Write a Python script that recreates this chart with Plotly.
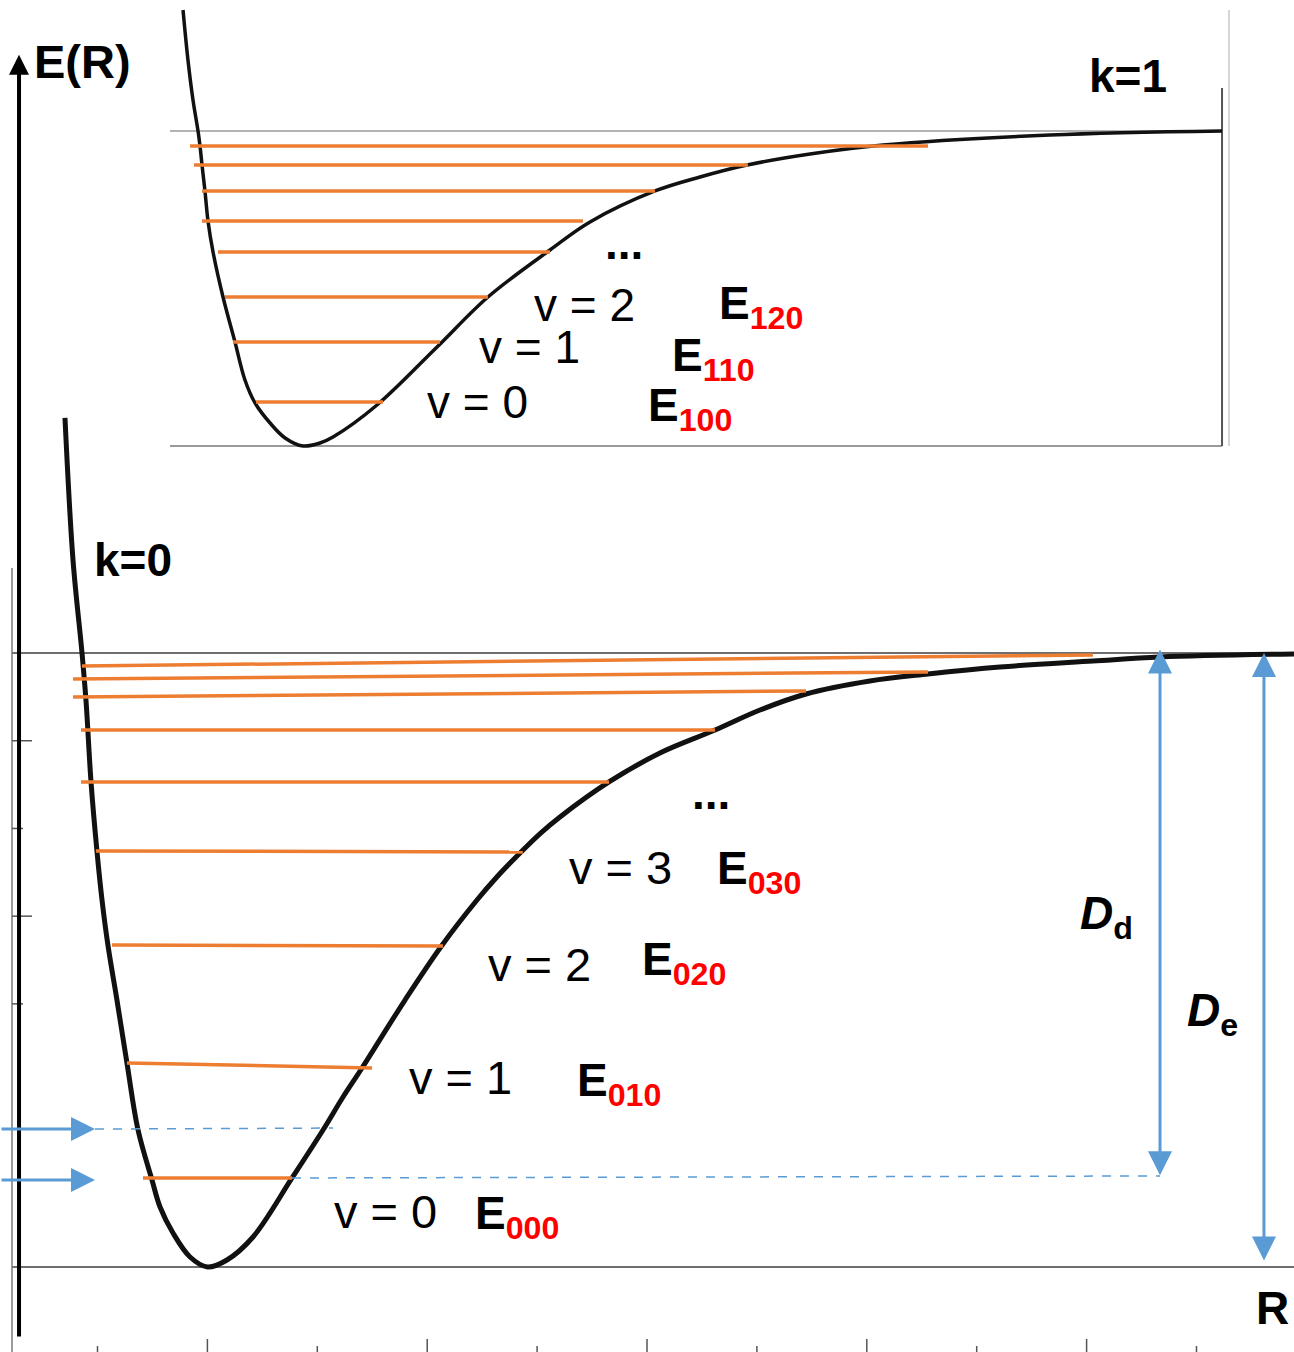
import plotly.graph_objects as go

W, H = 1294, 1352

# ---------------- data: k = 0 potential (lower panel) ----------------
k0_R = [-0.296, -0.223, -0.141, -0.105, -0.059, -0.005, 0.041, 0.096, 0.177, 0.268, 0.369, 0.496, 0.569, 0.687, 0.842, 1.0,
        1.178, 1.415, 1.770, 2.052, 2.234, 2.407, 2.798, 3.130, 3.453, 3.634, 3.863, 4.035, 4.208, 4.654, 5.118, 5.619,
        6.028, 6.447, 7.028, 7.557, 8.212, 9.058, 9.668, 10.887]
k0_E = [9.680, 8.061, 7.000, 6.464, 5.530, 4.743, 4.184, 3.660, 3.044, 2.326, 1.562, 0.992, 0.684, 0.388, 0.114, 0.0,
        0.080, 0.342, 1.015, 1.562, 1.938, 2.269, 3.044, 3.660, 4.184, 4.447, 4.743, 4.950, 5.131, 5.530, 5.860, 6.122,
        6.350, 6.533, 6.681, 6.761, 6.841, 6.909, 6.955, 6.989]
k0_lvl_R_left = [0.414, 0.268, 0.132, -0.014, -0.150, -0.150, -0.223, -0.223, -0.141]
k0_lvl_R_right = [1.770, 2.498, 3.144, 3.870, 4.654, 5.619, 6.447, 7.557, 9.058]
k0_lvl_E_left = [1.015, 2.326, 3.671, 4.743, 5.530, 6.122, 6.499, 6.704, 6.852]
k0_lvl_E_right = [1.015, 2.269, 3.660, 4.732, 5.530, 6.122, 6.567, 6.784, 6.978]
k0_De = 7.0
k0_E_lvl_ref = 1.573   # upper blue reference level (dashed)
k0_R_ticks = list(range(0, 11))
k0_E_ticks = [3, 4, 5, 6]

# ---------------- data: k = 1 potential (upper inset) ----------------
k1_R = [-0.263, -0.211, -0.158, -0.105, -0.084, -0.063, -0.032, 0.0, 0.053, 0.158, 0.284, 0.389, 0.495, 0.653, 0.811, 1.0,
        1.179, 1.316, 1.779, 2.411, 2.947, 3.6, 4.021, 4.705, 5.179, 5.674, 6.337, 7.105, 8.863, 10.674]
k1_E = [9.689, 8.578, 7.689, 7.0, 6.667, 6.244, 5.667, 5.0, 4.311, 3.311, 2.311, 1.467, 0.956, 0.511, 0.178, 0.0,
        0.067, 0.2, 0.911, 2.2, 3.311, 4.356, 4.978, 5.667, 5.978, 6.244, 6.489, 6.689, 6.911, 7.0]
k1_lvl_R_left = [0.505, 0.263, 0.179, 0.105, -0.063, -0.063, -0.147, -0.189]
k1_lvl_R_right = [1.842, 2.442, 2.947, 3.6, 3.947, 4.705, 5.684, 7.579]
k1_lvl_E = [0.978, 2.311, 3.311, 4.311, 5.0, 5.667, 6.244, 6.667]
k1_De = 7.0

ORANGE = "#ED7D31"
BLUE = "#5B9BD5"
FONT = "Arial, Liberation Sans, sans-serif"

# axis ranges / domains
X0_RANGE = [-0.8872, 10.8872]
Y0_RANGE = [-0.9691, 14.4453]
X1_RANGE = [-0.4, 10.7789]
Y1_RANGE = [-0.1333, 9.9111]

fig = go.Figure()

# ---- k=0 curve and levels ----
fig.add_trace(go.Scatter(x=k0_R, y=k0_E, mode="lines", line=dict(color="#111111", width=5, shape="spline", smoothing=1.0),
                         xaxis="x", yaxis="y", hoverinfo="skip"))
for xl, xr, yl, yr in zip(k0_lvl_R_left, k0_lvl_R_right, k0_lvl_E_left, k0_lvl_E_right):
    fig.add_trace(go.Scatter(x=[xl, xr], y=[yl, yr], mode="lines", line=dict(color=ORANGE, width=3.5),
                             xaxis="x", yaxis="y", hoverinfo="skip"))

# ---- k=1 curve and levels ----
fig.add_trace(go.Scatter(x=k1_R, y=k1_E, mode="lines", line=dict(color="#111111", width=3.5, shape="spline", smoothing=1.0),
                         xaxis="x2", yaxis="y2", hoverinfo="skip"))
for xl, xr, e in zip(k1_lvl_R_left, k1_lvl_R_right, k1_lvl_E):
    fig.add_trace(go.Scatter(x=[xl, xr], y=[e, e], mode="lines", line=dict(color=ORANGE, width=3.5),
                             xaxis="x2", yaxis="y2", hoverinfo="skip"))

shapes = []
GRAY = "#6e6e6e"
R_left_axis = -0.778
# lower panel frame lines
shapes.append(dict(type="line", xref="x", yref="y", x0=R_left_axis, x1=X0_RANGE[1], y0=0, y1=0,
                   line=dict(color=GRAY, width=2), layer="below"))
shapes.append(dict(type="line", xref="x", yref="y", x0=R_left_axis, x1=X0_RANGE[1], y0=k0_De, y1=k0_De,
                   line=dict(color=GRAY, width=2), layer="below"))
shapes.append(dict(type="line", xref="x", yref="y", x0=R_left_axis, x1=R_left_axis, y0=Y0_RANGE[0], y1=7.97,
                   line=dict(color="#7a7a7a", width=1.5), layer="below"))
for e in k0_E_ticks:
    xr = -0.596 if e % 2 == 0 else -0.678
    shapes.append(dict(type="line", xref="x", yref="y", x0=R_left_axis, x1=xr, y0=e, y1=e,
                       line=dict(color="#555555", width=1.5), layer="below"))
for r in k0_R_ticks:
    ytop = -0.821 if r % 2 == 1 else -0.901
    shapes.append(dict(type="line", xref="x", yref="y", x0=r, x1=r, y0=Y0_RANGE[0], y1=ytop,
                       line=dict(color="#555555", width=1.5), layer="below"))
# blue dashed reference lines
shapes.append(dict(type="line", xref="x", yref="y", x0=-0.023, x1=2.143, y0=k0_E_lvl_ref, y1=k0_E_lvl_ref + 0.011,
                   line=dict(color=BLUE, width=1.5, dash="dash")))
shapes.append(dict(type="line", xref="x", yref="y", x0=k0_lvl_R_right[0], x1=9.668, y0=k0_lvl_E_right[0], y1=1.038,
                   line=dict(color=BLUE, width=1.5, dash="dash")))
# inset frame
shapes.append(dict(type="line", xref="x2", yref="y2", x0=X1_RANGE[0], x1=10.674, y0=k1_De, y1=k1_De,
                   line=dict(color="#9a9a9a", width=1.5), layer="below"))
shapes.append(dict(type="line", xref="x2", yref="y2", x0=X1_RANGE[0], x1=10.674, y0=0, y1=0,
                   line=dict(color="#777777", width=1.5), layer="below"))
shapes.append(dict(type="line", xref="x2", yref="y2", x0=10.674, x1=10.674, y0=0, y1=7.956,
                   line=dict(color="#555555", width=2), layer="below"))
shapes.append(dict(type="line", xref="x2", yref="y2", x0=10.747, x1=10.747, y0=0, y1=9.689,
                   line=dict(color="#c8c8c8", width=1.5), layer="below"))

ann = []


def arrow(x, y, ax, ay, color, width, size, both=False):
    ann.append(dict(x=x, y=y, ax=ax, ay=ay, xref="x", yref="y", axref="x", ayref="y", text="",
                    showarrow=True, arrowhead=2, arrowsize=size, arrowwidth=width, arrowcolor=color,
                    standoff=0, startstandoff=0, arrowside="end+start" if both else "end",
                    startarrowhead=2, startarrowsize=size))


# E(R) axis arrow
arrow(-0.714, 13.82, -0.714, -0.809, "#000000", 4, 1.0)
# left blue arrows
arrow(-0.023, k0_E_lvl_ref, -0.887, k0_E_lvl_ref, BLUE, 3, 1.6)
arrow(-0.023, 0.992, -0.887, 0.992, BLUE, 3, 1.6)
# Dd and De
arrow(9.668, k0_De + 0.04, 9.668, 1.03, BLUE, 3, 1.6, both=True)
arrow(10.614, k0_De, 10.614, 0.057, BLUE, 3, 1.6, both=True)


def txt(s, left, baseline, size, color="#000000"):
    top = baseline - 0.905 * size
    ann.append(dict(x=left / W, y=1 - top / H, xref="paper", yref="paper", text=s, showarrow=False,
                    xanchor="left", yanchor="top", borderpad=0, align="left",
                    font=dict(family=FONT, size=size, color=color)))


def elab(sub, left, baseline):
    txt("<b>E<sub><span style='color:#FF0000'>%s</span></sub></b>" % sub, left, baseline, 46)


txt("<b>E(R)</b>", 33, 77, 47)
txt("<b>k=1</b>", 1088, 91, 46)
txt("<b>k=0</b>", 93, 575, 46)
txt("<b>R</b>", 1255, 1323, 46)
txt("v = 0", 333, 1227, 47)
txt("v = 1", 408, 1093, 47)
txt("v = 2", 487, 980, 47)
txt("v = 3", 568, 883, 47)
txt("<b>...</b>", 691, 808, 46)
elab("000", 474, 1228)
elab("010", 576, 1095)
elab("020", 641, 974)
elab("030", 716, 883)
txt("<b><i>D</i><sub>d</sub></b>", 1079, 928, 46)
txt("<b><i>D</i><sub>e</sub></b>", 1186, 1025, 46)
# inset labels
txt("v = 0", 426, 417, 46)
txt("v = 1", 478, 362, 46)
txt("v = 2", 533, 320, 46)
txt("<b>...</b>", 604, 258, 46)
elab("100", 647, 420)
elab("110", 671, 370)
elab("120", 718, 318)

ax_common = dict(visible=False, showgrid=False, zeroline=False, fixedrange=True)
fig.update_layout(
    width=W, height=H, margin=dict(l=0, r=0, t=0, b=0),
    paper_bgcolor="white", plot_bgcolor="rgba(0,0,0,0)", showlegend=False,
    xaxis=dict(domain=[0, 1], range=X0_RANGE, **ax_common),
    yaxis=dict(domain=[0, 1], range=Y0_RANGE, **ax_common),
    xaxis2=dict(domain=[170 / W, 1232 / W], range=X1_RANGE, anchor="y2", **ax_common),
    yaxis2=dict(domain=[1 - 452 / H, 1], range=Y1_RANGE, anchor="x2", **ax_common),
    shapes=shapes, annotations=ann,
)

fig.write_html("out.html")
